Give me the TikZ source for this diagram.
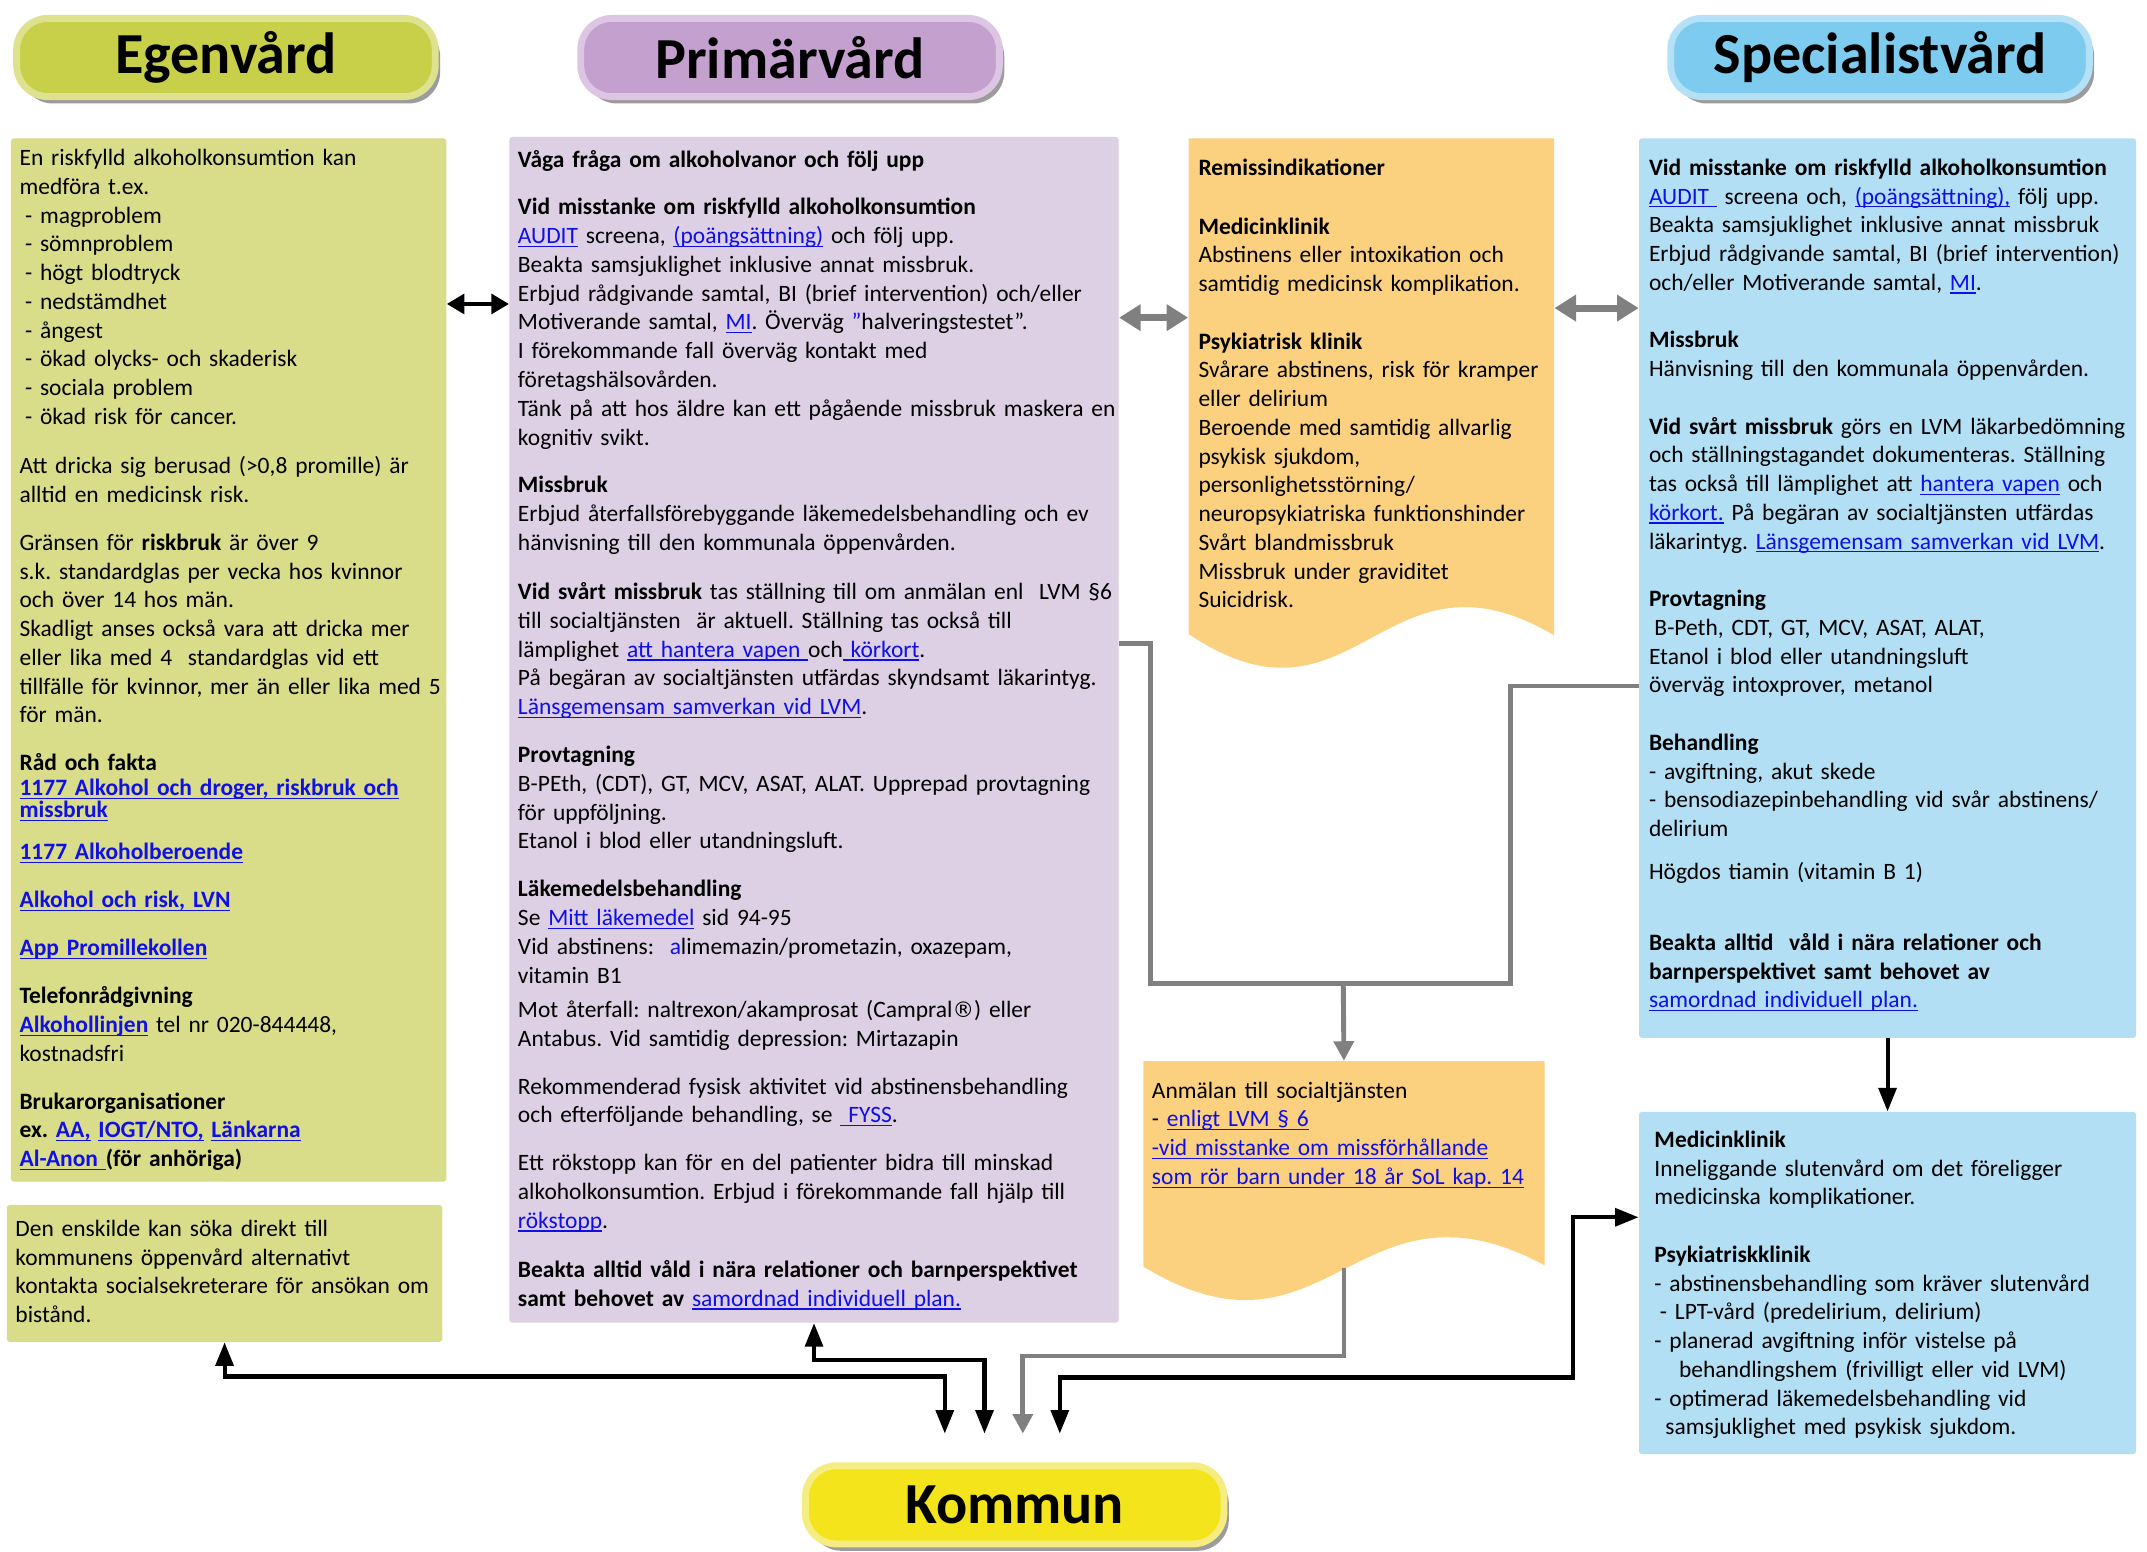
\documentclass[tikz,border=0pt]{standalone}
\usepackage{fontspec}
\setmainfont{Carlito}
\newfontfamily\symfont{DejaVu Sans}
\usetikzlibrary{arrows.meta,shadows,fit}

\definecolor{egenfill}{RGB}{217,221,137}
\definecolor{primfill}{RGB}{221,207,228}
\definecolor{remfill}{RGB}{251,209,127}
\definecolor{specfill}{RGB}{178,223,244}
\definecolor{egenpill}{RGB}{200,208,74}
\definecolor{egenrim}{RGB}{222,226,143}
\definecolor{primpill}{RGB}{196,160,206}
\definecolor{primrim}{RGB}{220,198,228}
\definecolor{specpill}{RGB}{125,204,240}
\definecolor{specrim}{RGB}{180,225,246}
\definecolor{kommpill}{RGB}{243,228,27}
\definecolor{kommrim}{RGB}{246,237,130}
\definecolor{linkblue}{RGB}{15,15,230}
\definecolor{grayline}{RGB}{128,128,128}

\newcommand{\lnk}[1]{\textcolor{linkblue}{\setbox0\hbox{#1}\rlap{\rule[-1.7pt]{\wd0}{0.6pt}}\box0}}
\newcommand{\pgap}{\\[9.8pt]}
\newcommand{\regmark}{{\symfont\fontsize{11}{12}\selectfont ®}}

\begin{document}
\begin{tikzpicture}[x=0.7pt, y=-0.7pt,
                every node/.style={font=\fontsize{12}{14.7}\selectfont\frenchspacing},
                box/.style={rectangle, rounded corners=1.5pt, inner sep=0pt},
                ghost/.style={rectangle, inner sep=0pt},
                txt/.style={anchor=base west, inner sep=0pt, align=left, text width=360pt},
                pill/.style={rectangle, rounded corners=16pt, line width=3.5pt,
                    minimum width=214pt, minimum height=40pt,
                    font=\fontsize{29.7}{32}\selectfont\bfseries,
                    drop shadow={shadow xshift=2.5pt, shadow yshift=-3.5pt, opacity=.55, fill=black!70}},
                blk/.style={draw=black, line width=2.1pt, >={Triangle[length=12pt,width=9pt]}},
                blkshort/.style={draw=black, line width=2.5pt, >={Triangle[length=9pt,width=10pt]}},
                gry/.style={draw=grayline, line width=2.5pt, >={Triangle[length=10pt,width=10pt]}},
                gryfat/.style={draw=grayline, line width=3.6pt, >={Triangle[length=11pt,width=13pt]}}]

        \path[use as bounding box, fill=white] (0,0) rectangle (1568,1133);

        % Define boxes
        \node[box, fill=egenfill, fit={(8,101) (326,863)}] (egen) {}; % Egenvård
        \node[box, fill=egenfill, fit={(5,880) (323,980)}] (egenB) {};
        \node[box, fill=primfill, fit={(372,100) (817,966)}] (prim) {}; % Primärvård
        \node[box, fill=specfill, fit={(1197,101) (1560,758)}] (spec) {}; % Specialistvård
        \node[box, fill=specfill, fit={(1197,812) (1560,1062)}] (specB) {};
        \fill[remfill] (868,463) -- (868,101) -- (1135,101) -- (1135,464)
                .. controls (1010,390) and (990,545) .. (868,463) -- cycle;
        \node[ghost, fit={(868,101) (1135,463)}] (remiss) {};
        \fill[remfill] (835,925) -- (835,775) -- (1128,775) -- (1128,924)
                .. controls (990,850) and (970,1007) .. (835,925) -- cycle;
        \node[ghost, fit={(835,775) (1128,926)}] (anm) {};

        % Define headers
        \node[pill, fill=egenpill, draw=egenrim] (hEgen) at (165,42) {Egenvård};
        \node[pill, fill=primpill, draw=primrim] (hPrim) at (577,42) {Primärvård};
        \node[pill, fill=specpill, draw=specrim] (hSpec) at (1373,42) {Specialistvård};
        \node[pill, fill=kommpill, draw=kommrim] (hKomm) at (741,1099) {Kommun};

        % Define texts
        \node[txt] (egenTxt) at (14,121) {En riskfylld alkoholkonsumtion kan\\
                medföra t.ex.\\
                \hspace*{2.8pt}- magproblem\\
                \hspace*{2.8pt}- sömnproblem\\
                \hspace*{2.8pt}- högt blodtryck\\
                \hspace*{2.8pt}- nedstämdhet\\
                \hspace*{2.8pt}- ångest\\
                \hspace*{2.8pt}- ökad olycks- och skaderisk\\
                \hspace*{2.8pt}- sociala problem\\
                \hspace*{2.8pt}- ökad risk för cancer.\\[10.5pt]
                Att dricka sig berusad (>0,8 promille) är\\
                alltid en medicinsk risk.\pgap
                Gränsen för \textbf{riskbruk} är över 9\\
                s.k. standardglas per vecka hos kvinnor\\
                och över 14 hos män.\\
                Skadligt anses också vara att dricka mer\\
                eller lika med 4\ \ standardglas vid ett\\
                tillfälle för kvinnor, mer än eller lika med 5\\
                för män.\pgap
                \textbf{Råd och fakta}\\[-2.1pt]
                \textbf{\lnk{1177 Alkohol och droger, riskbruk och}}\\[-3.5pt]
                \textbf{\lnk{missbruk}}\\[7pt]
                \textbf{\lnk{1177 Alkoholberoende}}\pgap
                \textbf{\lnk{Alkohol och risk, LVN}}\pgap
                \textbf{\lnk{App Promillekollen}}\pgap
                \textbf{Telefonrådgivning}\\
                \textbf{\lnk{Alkohollinjen}} tel nr 020-844448,\\
                kostnadsfri\pgap
                \textbf{Brukarorganisationer}\\
                \textbf{ex. \lnk{AA,} \lnk{IOGT/NTO,} \lnk{Länkarna}}\\
                \textbf{\lnk{Al-Anon\ }(för anhöriga)}};
        \node[txt] (egenBTxt) at (11,903) {Den enskilde kan söka direkt till\\
                kommunens öppenvård alternativt\\
                kontakta socialsekreterare för ansökan om\\
                bistånd.};
        \node[txt] (primTxt) at (378,122) {\textbf{Våga fråga om alkoholvanor och följ upp}\pgap
                \textbf{Vid misstanke om riskfylld alkoholkonsumtion}\\
                \lnk{AUDIT} screena, \lnk{(poängsättning)} och följ upp.\\
                Beakta samsjuklighet inklusive annat missbruk.\\
                Erbjud rådgivande samtal, BI (brief intervention) och/eller\\
                Motiverande samtal, \lnk{MI}. Överväg \textcolor{linkblue}{”}halveringstestet”.\\
                I förekommande fall överväg kontakt med\\
                företagshälsovården.\\
                Tänk på att hos äldre kan ett pågående missbruk maskera en\\
                kognitiv svikt.\pgap
                \textbf{Missbruk}\\
                Erbjud återfallsförebyggande läkemedelsbehandling och ev\\
                hänvisning till den kommunala öppenvården.\\[10.5pt]
                \textbf{Vid svårt missbruk} tas ställning till om anmälan enl\ \ LVM §6\\
                till socialtjänsten\ \ är aktuell. Ställning tas också till\\
                lämplighet \lnk{att hantera vapen\ }och\lnk{\ körkort}.\\
                På begäran av socialtjänsten utfärdas skyndsamt läkarintyg.\\
                \lnk{Länsgemensam samverkan vid LVM}.\pgap
                \textbf{Provtagning}\\
                B-PEth, (CDT), GT, MCV, ASAT, ALAT. Upprepad provtagning\\
                för uppföljning.\\
                Etanol i blod eller utandningsluft.\pgap
                \textbf{Läkemedelsbehandling}\\
                Se \lnk{Mitt läkemedel} sid 94-95\\
                Vid abstinens:\ \ \textcolor{linkblue}{a}limemazin/prometazin, oxazepam,\\
                vitamin B1\\[2.8pt]
                Mot återfall: naltrexon/akamprosat (Campral\regmark) eller\\
                Antabus. Vid samtidig depression: Mirtazapin\pgap
                Rekommenderad fysisk aktivitet vid abstinensbehandling\\
                och efterföljande behandling, se \lnk{\ FYSS}.\pgap
                Ett rökstopp kan för en del patienter bidra till minskad\\
                alkoholkonsumtion. Erbjud i förekommande fall hjälp till\\
                \lnk{rökstopp}.\\[10.5pt]
                \textbf{Beakta alltid våld i nära relationer och barnperspektivet}\\
                \textbf{samt behovet av} \lnk{samordnad individuell plan.}};
        \node[txt] (remTxt) at (875,128) {\textbf{Remissindikationer}\\[15.4pt]
                \textbf{Medicinklinik}\\
                Abstinens eller intoxikation och\\
                samtidig medicinsk komplikation.\\[14.7pt]
                \textbf{Psykiatrisk klinik}\\
                Svårare abstinens, risk för kramper\\
                eller delirium\\
                Beroende med samtidig allvarlig\\
                psykisk sjukdom,\\
                personlighetsstörning/\\
                neuropsykiatriska funktionshinder\\
                Svårt blandmissbruk\\
                Missbruk under graviditet\\
                Suicidrisk.};
        \node[txt] (anmTxt) at (841,802) {Anmälan till socialtjänsten\\
                - \lnk{enligt LVM § 6}\\
                \lnk{-vid misstanke om missförhållande}\\
                \lnk{som rör barn under 18 år SoL kap. 14}};
        \node[txt] (specTxt) at (1204,128) {\textbf{Vid misstanke om riskfylld alkoholkonsumtion}\\
                \lnk{AUDIT\ }\ screena och, \lnk{(poängsättning),} följ upp.\\
                Beakta samsjuklighet inklusive annat missbruk\\
                Erbjud rådgivande samtal, BI (brief intervention)\\
                och/eller Motiverande samtal, \lnk{MI}.\\[14.7pt]
                \textbf{Missbruk}\\
                Hänvisning till den kommunala öppenvården.\\[14.7pt]
                \textbf{Vid svårt missbruk} görs en LVM läkarbedömning\\
                och ställningstagandet dokumenteras. Ställning\\
                tas också till lämplighet att \lnk{hantera vapen} och\\
                \lnk{körkort.} På begäran av socialtjänsten utfärdas\\
                läkarintyg. \lnk{Länsgemensam samverkan vid LVM}.\\[14.7pt]
                \textbf{Provtagning}\\
                \hspace*{2.8pt}B-Peth, CDT, GT, MCV, ASAT, ALAT,\\
                Etanol i blod eller utandningsluft\\
                överväg intoxprover, metanol\\[14.7pt]
                \textbf{Behandling}\\
                - avgiftning, akut skede\\
                - bensodiazepinbehandling vid svår abstinens/\\
                delirium\\[7pt]
                Högdos tiamin (vitamin B 1)\\[21.7pt]
                \textbf{Beakta alltid\ \ våld i nära relationer och}\\
                \textbf{barnperspektivet samt behovet av}\\
                \lnk{samordnad individuell plan.}};
        \node[txt] (specBTxt) at (1208,838) {\textbf{Medicinklinik}\\
                Inneliggande slutenvård om det föreligger\\
                medicinska komplikationer.\\[14.7pt]
                \textbf{Psykiatriskklinik}\\
                - abstinensbehandling som kräver slutenvård\\
                \hspace*{2.8pt}- LPT-vård (predelirium, delirium)\\
                - planerad avgiftning inför vistelse på\\
                \hspace*{12.6pt}behandlingshem (frivilligt eller vid LVM)\\
                - optimerad läkemedelsbehandling vid\\
                \hspace*{5.6pt}samsjuklighet med psykisk sjukdom.};

        % Define joints
        \coordinate (yEP) at (0,222);
        \coordinate (yPR) at (0,232);
        \coordinate (yRS) at (0,225);
        \coordinate (pj) at (840,470);
        \coordinate (sj) at (1103,501);
        \coordinate (gj) at (981,718);
        \coordinate (bj) at (1149,889);
        \coordinate (k1) at (690,1047);
        \coordinate (k2) at (719,1047);
        \coordinate (k3) at (747,1047);
        \coordinate (k4) at (774,1047);

        % Define edges
        \draw[blkshort, <->] (egen.east |- yEP) -- (prim.west |- yEP);
        \draw[gryfat, <->] (prim.east |- yPR) -- (remiss.west |- yPR);
        \draw[gryfat, <->] (remiss.east |- yRS) -- (spec.west |- yRS);
        \draw[gry] (prim.east |- pj) -- (pj) |- (gj);
        \draw[gry] (spec.west |- sj) -- (sj) |- (gj);
        \draw[gry, ->] (gj) -- (anm.north);
        \draw[blk, ->] (spec.south) -- (specB.north);
        \draw[blk, <->] (egenB.south) -- ++(0,25) -| (k1);
        \draw[blk, <->] (prim.south) -- ++(0,27) -| (k2);
        \draw[gry, ->] (anm.south) -- ++(0,64) -| (k3);
        \draw[blk, <->] (k4) -- ++(0,-41) -| (bj) -- (specB.west |- bj);
\end{tikzpicture}
\end{document}
